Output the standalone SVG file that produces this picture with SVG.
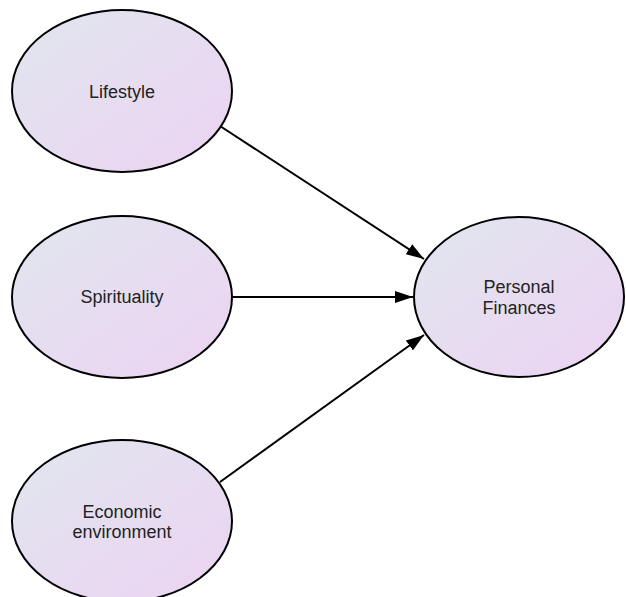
<svg xmlns="http://www.w3.org/2000/svg" width="626" height="597" viewBox="0 0 626 597">
<defs>
<linearGradient id="g" x1="0" y1="0" x2="1" y2="1">
<stop offset="0" stop-color="#e1e6ee"/>
<stop offset="1" stop-color="#ecd3f3"/>
</linearGradient>
<marker id="ah" markerWidth="18" markerHeight="12" refX="18" refY="6" orient="auto" markerUnits="userSpaceOnUse">
<path d="M0,0 L18,6 L0,12 z" fill="#000"/>
</marker>
<style>
.n ellipse{fill:url(#g);stroke:#000;stroke-width:2}
.n text{font-family:"Liberation Sans",Arial,sans-serif;font-size:18px;fill:#222;text-anchor:middle}
.c line{stroke:#000;stroke-width:2;marker-end:url(#ah)}
</style>
</defs>
<rect width="626" height="597" fill="#fff"/>
<g class="c" id="connectors">
<line x1="220" y1="126" x2="424" y2="259"/>
<line x1="232" y1="297" x2="413" y2="297"/>
<line x1="220" y1="482" x2="424" y2="335"/>
</g>
<g class="n" id="lifestyle">
<ellipse cx="122" cy="91" rx="110" ry="81"/>
<text x="122" y="98">Lifestyle</text>
</g>
<g class="n" id="spirituality">
<ellipse cx="122" cy="297" rx="110" ry="81"/>
<text x="122" y="303">Spirituality</text>
</g>
<g class="n" id="economic">
<ellipse cx="122" cy="521" rx="110" ry="81"/>
<text x="122" y="518">Economic</text>
<text x="122" y="538">environment</text>
</g>
<g class="n" id="personal">
<ellipse cx="519" cy="297" rx="105" ry="80"/>
<text x="519" y="293">Personal</text>
<text x="519" y="314">Finances</text>
</g>
</svg>
